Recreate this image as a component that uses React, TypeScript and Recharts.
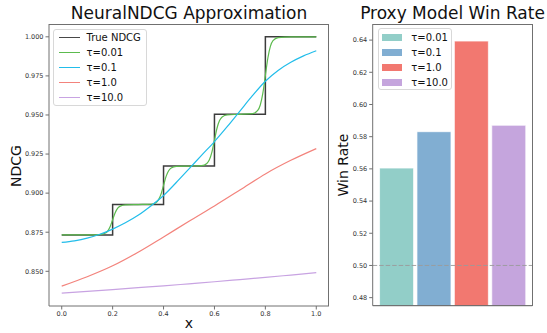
import React from 'react';
import { LineChart, Line, XAxis, YAxis, BarChart, Bar, Cell, ReferenceLine, Legend } from 'recharts';

// ---------- Left panel data ----------
const xTicks = [0, 0.2, 0.4, 0.6, 0.8, 1.0];
const yTicksLeft = [0.85, 0.875, 0.9, 0.925, 0.95, 0.975, 1.0];

const trueX = [0, 0.2, 0.4, 0.6, 0.8, 1.0];
const trueNdcg = [0.8733, 0.8927, 0.9173, 0.9504, 1.0, 1.0];

const tau001X = [0, 0.1, 0.15, 0.17, 0.18, 0.19, 0.2, 0.21, 0.22, 0.23, 0.25, 0.3, 0.35, 0.37, 0.38, 0.39, 0.4, 0.41, 0.42, 0.43, 0.45, 0.5, 0.55, 0.57, 0.58, 0.59, 0.6, 0.61, 0.62, 0.63, 0.65, 0.7, 0.75, 0.77, 0.78, 0.79, 0.8, 0.81, 0.82, 0.83, 0.85, 0.9, 1.0];
const tau001Y = [0.8733, 0.8733, 0.8735, 0.8743, 0.8756, 0.8785, 0.883, 0.8875, 0.8904, 0.8917, 0.8925, 0.8927, 0.8929, 0.8939, 0.8957, 0.8993, 0.905, 0.9107, 0.9143, 0.9161, 0.9171, 0.9173, 0.9176, 0.919, 0.9213, 0.9262, 0.9339, 0.9415, 0.9464, 0.9487, 0.9501, 0.9504, 0.9509, 0.9529, 0.9564, 0.9638, 0.9752, 0.9866, 0.994, 0.9975, 0.9995, 1.0, 1.0];

const tau01X = [0, 0.05, 0.1, 0.15, 0.2, 0.25, 0.3, 0.35, 0.4, 0.45, 0.5, 0.55, 0.6, 0.65, 0.7, 0.75, 0.8, 0.85, 0.9, 0.95, 1.0];
const tau01Y = [0.8685, 0.8695, 0.8712, 0.8737, 0.877, 0.881, 0.8858, 0.8918, 0.8985, 0.9068, 0.9155, 0.9243, 0.933, 0.9425, 0.9525, 0.9625, 0.9716, 0.9785, 0.9837, 0.9878, 0.9911];

const coarseX = [0, 0.1, 0.2, 0.3, 0.4, 0.5, 0.6, 0.7, 0.8, 0.9, 1.0];
const tau1Y = [0.8405, 0.8465, 0.8535, 0.8622, 0.872, 0.882, 0.8918, 0.902, 0.9123, 0.921, 0.9285];
const tau10Y = [0.836, 0.8371, 0.8383, 0.8395, 0.8407, 0.842, 0.8433, 0.8447, 0.8461, 0.8476, 0.8491];

const lineNames = ['True NDCG', 'τ=0.01', 'τ=0.1', 'τ=1.0', 'τ=10.0'];
const lineColors = ['#1a1a1a', '#5cbb4e', '#22bdea', '#f3837c', '#c8a3e2'];

// ---------- Right panel data ----------
const barNames = ['τ=0.01', 'τ=0.1', 'τ=1.0', 'τ=10.0'];
const winRates = [0.5605, 0.5831, 0.6394, 0.5871];
const barColors = ['#92cec8', '#81aed2', '#f27870', '#c5a5dd'];
const yTicksRight = [0.48, 0.5, 0.52, 0.54, 0.56, 0.58, 0.6, 0.62, 0.64];

const zip = (xs: number[], ys: number[]) => xs.map((x, i) => ({ x, y: ys[i] }));
const series = [
  zip(trueX, trueNdcg),
  zip(tau001X, tau001Y),
  zip(tau01X, tau01Y),
  zip(coarseX, tau1Y),
  zip(coarseX, tau10Y),
];
const barData = barNames.map((name, i) => ({ name, value: winRates[i] }));

const FONT = '"DejaVu Sans", sans-serif';
const SPINE = '#707070';
const tickStyle = { fontSize: 6.5, fill: '#333', fontFamily: FONT };
const LEFT_DOMAIN: [number, number] = [0.8278, 1.0082];
const RIGHT_DOMAIN: [number, number] = [0.475, 0.65];

const LineLegend = () => (
  <div style={{ width: 94, height: 77, boxSizing: 'border-box', border: '1px solid #d8d8d8', borderRadius: 3, background: 'rgba(255,255,255,0.85)', fontFamily: FONT, fontSize: 10, color: '#111' }}>
    {lineNames.map((n, i) => (
      <div key={n} style={{ height: 15, display: 'flex', alignItems: 'center' }}>
        <div style={{ marginLeft: 5, width: 21, height: 1.6, background: lineColors[i], opacity: i === 0 ? 0.8 : 1 }} />
        <span style={{ marginLeft: 7, lineHeight: '15px' }}>{n}</span>
      </div>
    ))}
  </div>
);

const BarLegend = () => (
  <div style={{ width: 74, height: 62, boxSizing: 'border-box', border: '1px solid #d8d8d8', borderRadius: 3, background: 'rgba(255,255,255,0.85)', fontFamily: FONT, fontSize: 10, color: '#111', paddingTop: 1 }}>
    {barNames.map((n, i) => (
      <div key={n} style={{ height: 15, display: 'flex', alignItems: 'center' }}>
        <div style={{ marginLeft: 3, width: 20, height: 7, background: barColors[i] }} />
        <span style={{ marginLeft: 9, lineHeight: '15px' }}>{n}</span>
      </div>
    ))}
  </div>
);

export default function App() {
  return (
    <div style={{ position: 'fixed', left: 0, top: 0, width: 547, height: 333, background: '#fff', overflow: 'hidden' }}>
      <div style={{ position: 'absolute', left: 49, width: 280, top: 5, textAlign: 'center', fontFamily: FONT, fontSize: 17, lineHeight: '17px', color: '#111' }}>NeuralNDCG Approximation</div>
      <div style={{ position: 'absolute', left: 352, width: 201, top: 5, textAlign: 'center', fontFamily: FONT, fontSize: 17, lineHeight: '17px', color: '#111' }}>Proxy Model Win Rate</div>

      <div style={{ position: 'absolute', left: 0, top: 0 }}>
        <LineChart width={340} height={333} margin={{ top: 24, right: 11, bottom: 0, left: 0 }}>
          <XAxis xAxisId="b" type="number" dataKey="x" domain={[-0.05, 1.05]} ticks={xTicks} allowDataOverflow
            tickFormatter={(v: number) => v.toFixed(1)} height={27} tickSize={3.5} tickMargin={1.5}
            stroke={SPINE} tick={tickStyle} interval={0} />
          <YAxis yAxisId="l" type="number" domain={LEFT_DOMAIN} ticks={yTicksLeft} allowDataOverflow
            tickFormatter={(v: number) => v.toFixed(3)} width={49} tickSize={3.5} tickMargin={2}
            stroke={SPINE} tick={tickStyle} interval={0} />
          {series.map((d, i) => (
            <Line key={lineNames[i]} xAxisId="b" yAxisId="l" data={d} dataKey="y" name={lineNames[i]}
              type={i === 0 ? 'stepAfter' : 'monotone'} stroke={lineColors[i]} strokeWidth={i === 0 ? 1.5 : 1.2}
              strokeOpacity={i === 0 ? 0.85 : 1} dot={false} activeDot={false} isAnimationActive={false} />
          ))}
          <Legend layout="vertical" align="center" verticalAlign="middle" content={() => <LineLegend />}
            wrapperStyle={{ left: 52.5, top: 29, width: 94, height: 77 }} />
        </LineChart>
      </div>

      <div style={{ position: 'absolute', left: 340, top: 0 }}>
        <BarChart width={207} height={333} data={barData} margin={{ top: 24, right: 14.7, bottom: 0, left: 0 }} barCategoryGap="5%">
          <XAxis dataKey="name" tick={false} tickLine={false} height={27.3} stroke="#555" padding={{ left: 5, right: 5 }} />
          <YAxis type="number" domain={RIGHT_DOMAIN} ticks={yTicksRight} allowDataOverflow
            tickFormatter={(v: number) => v.toFixed(2)} width={32.7} tickSize={3.5} tickMargin={2}
            stroke={SPINE} tick={tickStyle} interval={0} />
          <Bar dataKey="value" isAnimationActive={false} stroke="#fff" strokeWidth={1} strokeOpacity={0.7}>
            {barData.map((d, i) => (
              <Cell key={d.name} fill={barColors[i]} />
            ))}
          </Bar>
          <ReferenceLine y={0.5} stroke="#9a9a9a" strokeDasharray="4.5 2" strokeWidth={1} strokeOpacity={0.9} />
          <Legend layout="vertical" align="center" verticalAlign="middle" content={() => <BarLegend />}
            wrapperStyle={{ left: 38.3, top: 28.3, width: 74, height: 62 }} />
        </BarChart>
      </div>

      {/* top and right spines */}
      <div style={{ position: 'absolute', left: 49, top: 23.5, width: 280, height: 282.5, boxSizing: 'border-box', borderTop: `1px solid ${SPINE}`, borderRight: `1px solid ${SPINE}`, pointerEvents: 'none' }} />
      <div style={{ position: 'absolute', left: 372.7, top: 23.5, width: 160, height: 282.5, boxSizing: 'border-box', borderTop: `1px solid ${SPINE}`, borderRight: `1px solid ${SPINE}`, pointerEvents: 'none' }} />

      <div style={{ position: 'absolute', left: 189 - 20, width: 40, top: 316, textAlign: 'center', fontFamily: FONT, fontSize: 14, lineHeight: '14px', color: '#111' }}>x</div>
      <div style={{ position: 'absolute', left: 16 - 30, top: 166 - 8, width: 60, height: 16, textAlign: 'center', fontFamily: FONT, fontSize: 14, lineHeight: '16px', color: '#111', transform: 'rotate(-90deg)' }}>NDCG</div>
      <div style={{ position: 'absolute', left: 343 - 40, top: 165 - 8, width: 80, height: 16, textAlign: 'center', fontFamily: FONT, fontSize: 14, lineHeight: '16px', color: '#111', transform: 'rotate(-90deg)' }}>Win Rate</div>
    </div>
  );
}
